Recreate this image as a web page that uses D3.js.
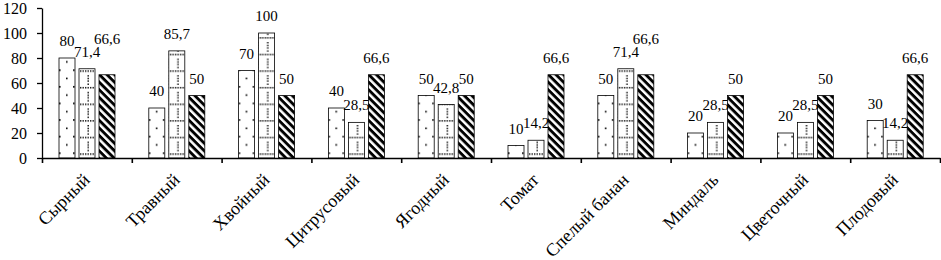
<!DOCTYPE html>
<html>
<head>
<meta charset="utf-8">
<script src="https://cdn.jsdelivr.net/npm/d3@7"></script>
<style>
  html, body { margin: 0; padding: 0; background: #fff; }
  svg { display: block; }
  svg text { font-family: "Liberation Serif", "Times New Roman", serif; fill: #000; }
</style>
</head>
<body>
<div id="chart"></div>
<script>
// данные
const categories = ["Сырный", "Травный", "Хвойный", "Цитрусовый", "Ягодный",
  "Томат", "Спелый банан", "Миндаль", "Цветочный", "Плодовый"];
const series1 = [80, 40, 70, 40, 50, 10, 50, 20, 20, 30];
const series2 = [71.4, 85.7, 100, 28.5, 42.8, 14.2, 71.4, 28.5, 28.5, 14.2];
const series3 = [66.6, 50, 50, 66.6, 50, 66.6, 66.6, 50, 50, 66.6];
const yTicks = [0, 20, 40, 60, 80, 100, 120];

const FONT = '"Liberation Serif", "Times New Roman", serif';
const width = 941, height = 260;
const margin = { top: 8, left: 42, right: 1, bottom: 102 };

const svg = d3.select("#chart").append("svg")
  .attr("width", width).attr("height", height);

// узоры заливки
const defs = svg.append("defs");

const p1 = defs.append("pattern").attr("id", "pat1")
  .attr("patternUnits", "userSpaceOnUse").attr("width", 14).attr("height", 16.6);
p1.append("rect").attr("width", 14).attr("height", 16.6).attr("fill", "#fff");
p1.append("rect").attr("x", 3).attr("y", 3).attr("width", 1.6).attr("height", 1.6).attr("fill", "#000");
p1.append("rect").attr("x", 10).attr("y", 11.3).attr("width", 1.6).attr("height", 1.6).attr("fill", "#000");

const p2 = defs.append("pattern").attr("id", "pat2")
  .attr("patternUnits", "userSpaceOnUse").attr("width", 10).attr("height", 16.6);
p2.append("rect").attr("width", 10).attr("height", 16.6).attr("fill", "#fff");
[0.5, 3, 5.5, 8].forEach(x => p2.append("rect").attr("x", x).attr("y", 4).attr("width", 1.4).attr("height", 1.4).attr("fill", "#000"));
[0.5, 8.8, 11.5, 14].forEach(y => p2.append("rect").attr("x", 5.5).attr("y", y).attr("width", 1.4).attr("height", 1.4).attr("fill", "#000"));

const p3 = defs.append("pattern").attr("id", "pat3")
  .attr("patternUnits", "userSpaceOnUse").attr("width", 5.4).attr("height", 5.4)
  .attr("patternTransform", "rotate(45)");
p3.append("rect").attr("width", 5.4).attr("height", 5.4).attr("fill", "#fff");
p3.append("rect").attr("width", 5.4).attr("height", 2.9).attr("fill", "#000");

const fills = ["url(#pat1)", "url(#pat2)", "url(#pat3)"];
const allSeries = [series1, series2, series3];

// шкалы
const x0 = margin.left, x1 = width - margin.right;
const x = d3.scaleBand().domain(categories).range([x0, x1]).padding(0);
const xInner = d3.scaleBand().domain([0, 1, 2]).range([17, 73]).paddingInner(0.2);
const xEdges = d3.scaleLinear().domain([0, categories.length]).range([x0, x1]);
const y = d3.scaleLinear().domain([0, 120]).range([158, margin.top]);

// столбцы
const groups = svg.append("g").selectAll("g").data(categories).join("g")
  .attr("transform", d => `translate(${x(d)},0)`);

groups.each(function (cat, ci) {
  const g = d3.select(this);
  allSeries.forEach((s, si) => {
    g.append("rect")
      .attr("x", xInner(si)).attr("y", y(s[ci]))
      .attr("width", xInner.bandwidth()).attr("height", y(0) - y(s[ci]))
      .attr("fill", fills[si]).attr("stroke", "#000").attr("stroke-width", 0.8);
  });
});

// подписи значений (с простым сдвигом при наложении)
const fmt = v => String(v).replace(".", ",");
groups.each(function (cat, ci) {
  const g = d3.select(this);
  let prev = null;
  allSeries.forEach((s, si) => {
    const cx = xInner(si) + xInner.bandwidth() / 2;
    let base = y(s[ci]) - 12;
    const t = g.append("text").attr("x", cx).attr("text-anchor", "middle")
      .style("font-family", FONT).style("font-size", "15px").text(fmt(s[ci]));
    const w = t.node().getComputedTextLength();
    if (prev && cx - w / 2 < prev.right - 2 && Math.abs(base - prev.base) < 13) {
      base = Math.min(base, prev.base - 13);
    }
    t.attr("y", base);
    prev = { right: cx + w / 2, base };
  });
});

// оси
const yAxis = svg.append("g").attr("transform", `translate(${x0},0)`)
  .call(d3.axisLeft(y).tickValues(yTicks).tickSize(5).tickPadding(10).tickSizeOuter(0));
yAxis.selectAll("text").style("font-family", FONT).style("font-size", "16px");
yAxis.selectAll("path, line").attr("stroke", "#000").attr("stroke-width", 1.3);

const xAxis = svg.append("g").attr("transform", `translate(0,${y(0)})`)
  .call(d3.axisBottom(xEdges).tickValues(d3.range(categories.length + 1)).tickFormat("").tickSize(5).tickSizeOuter(0));
xAxis.selectAll("path, line").attr("stroke", "#000").attr("stroke-width", 1.6);

// подписи категорий
svg.append("g").selectAll("text").data(categories).join("text")
  .attr("transform", d => `translate(${x(d) + x.bandwidth() / 2 + 4},181) rotate(-45)`)
  .attr("text-anchor", "end")
  .style("font-family", FONT).style("font-size", "18px")
  .text(d => d);
</script>
</body>
</html>
